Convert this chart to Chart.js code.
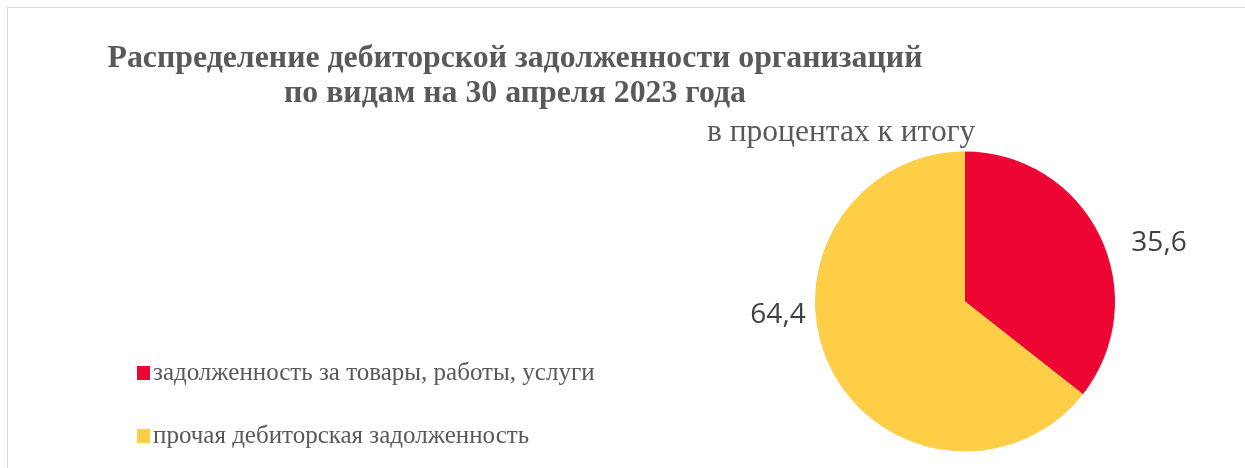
<!DOCTYPE html>
<html lang="ru">
<head>
<meta charset="utf-8">
<script src="https://cdn.jsdelivr.net/npm/chart.js@4/dist/chart.umd.min.js"></script>
<style>
    html, body { margin: 0; padding: 0; background: #fff; }
    #wrap { position: relative; width: 1245px; height: 468px; overflow: hidden; }
    #frame { position: absolute; left: 7px; top: 7px; width: 1260px; height: 480px; border: 1px solid #d9d9d9; }
    #title { position: absolute; left: 15px; width: 1000px; top: 39px; text-align: center;
        font-family: "Liberation Serif", "Times New Roman", serif; font-weight: bold;
        font-size: 31.8px; line-height: 35px; color: #595959; }
    #subtitle { position: absolute; left: 707px; top: 113px;
        font-family: "Liberation Serif", "Times New Roman", serif;
        font-size: 31.5px; line-height: 36px; color: #595959; white-space: nowrap; }
    #legend { position: absolute; left: 137px; top: 356px;
        font-family: "Liberation Serif", "Times New Roman", serif; font-size: 25px; color: #595959; }
    #legend div { height: 63px; line-height: 31px; white-space: nowrap; }
    #legend span.box { display: inline-block; width: 13px; height: 14px; margin-right: 3px; vertical-align: 0px; }
    canvas { position: absolute; left: 0; top: 0; }
</style>
</head>
<body>
<div id="wrap">
    <div id="frame"></div>
    <canvas id="pieChart" width="1245" height="468"></canvas>
    <div id="title">Распределение дебиторской задолженности организаций<br>по видам на 30 апреля 2023 года</div>
    <div id="subtitle">в процентах к итогу</div>
    <div id="legend"></div>
</div>
<script>
// данные
const categories = ['задолженность за товары, работы, услуги', 'прочая дебиторская задолженность'];
const shares = [35.6, 64.4];
const colors = ['#ED0633', '#FFCE47'];

// смещения подписей от центра круга (x, y)
const labelOffsets = [[194, -58], [-187, 14]];

// легенда
const legend = document.getElementById('legend');
categories.forEach((c, i) => {
    legend.insertAdjacentHTML('beforeend',
        `<div><span class="box" style="background:${colors[i]}"></span>${c}</div>`);
});

// подписи значений
const valueLabels = {
    id: 'valueLabels',
    afterDatasetsDraw(chart) {
        const ctx = chart.ctx;
        const meta = chart.getDatasetMeta(0);
        ctx.save();
        ctx.font = '28px "Open Sans", "Liberation Sans", sans-serif';
        ctx.fillStyle = '#404040';
        ctx.textAlign = 'center';
        ctx.textBaseline = 'middle';
        meta.data.forEach((arc, i) => {
            const text = shares[i].toFixed(1).replace('.', ',');
            ctx.fillText(text, arc.x + labelOffsets[i][0], arc.y + labelOffsets[i][1]);
        });
        ctx.restore();
    }
};

new Chart(document.getElementById('pieChart'), {
    type: 'pie',
    data: {
        labels: categories,
        datasets: [{
            data: shares,
            backgroundColor: colors,
            borderWidth: 0
        }]
    },
    options: {
        responsive: false,
        animation: false,
        layout: { padding: { left: 815, right: 130, top: 151, bottom: 16 } },
        plugins: {
            legend: { display: false },
            tooltip: { enabled: false }
        }
    },
    plugins: [valueLabels]
});
</script>
</body>
</html>
